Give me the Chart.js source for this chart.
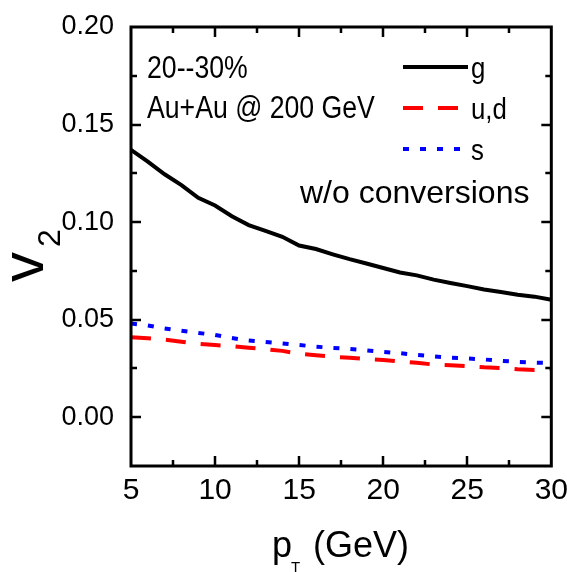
<!DOCTYPE html>
<html>
<head>
<meta charset="utf-8">
<script src="https://cdn.jsdelivr.net/npm/chart.js@4.4.1/dist/chart.umd.min.js"></script>
<style>
  html, body { margin: 0; padding: 0; background: #fff; }
  #wrap { width: 567px; height: 572px; }
</style>
</head>
<body>
<div id="wrap"><canvas id="v2Chart" width="567" height="572"></canvas></div>
<script>
// pT grid (GeV) and v2 of each parton species
const ptValues = [5, 6, 7, 8, 9, 10, 11, 12, 13, 14, 15, 16, 17, 18, 19, 20, 21, 22, 23, 24, 25, 26, 27, 28, 29, 30];
const v2Gluon = [0.137, 0.131, 0.1245, 0.119, 0.1125, 0.1085, 0.103, 0.0985, 0.0955, 0.0925, 0.088, 0.0862, 0.0835, 0.081, 0.0788, 0.0765, 0.0742, 0.0727, 0.0705, 0.0688, 0.0672, 0.0655, 0.0642, 0.0628, 0.0618, 0.0602];
const v2Light = [0.041, 0.0405, 0.0398, 0.0387, 0.0376, 0.037, 0.0364, 0.0356, 0.0349, 0.034, 0.0326, 0.0318, 0.031, 0.0305, 0.0298, 0.0293, 0.0286, 0.0279, 0.027, 0.0266, 0.0262, 0.0256, 0.0252, 0.0246, 0.0242, 0.0248];
const v2Strange = [0.048, 0.047, 0.0455, 0.0443, 0.0432, 0.0422, 0.0406, 0.0393, 0.0386, 0.0378, 0.037, 0.0362, 0.0355, 0.035, 0.0343, 0.0335, 0.0328, 0.0319, 0.0312, 0.0305, 0.0301, 0.0296, 0.0289, 0.0284, 0.028, 0.0278];

const seriesNames = ['g', 'u,d', 's'];
const xTickStep = 2.5;
const yTickStep = 0.025;

const TEXT_FONT = '"Liberation Sans", Arial, sans-serif';

function toPoints(ys) {
  return ptValues.map((x, i) => ({ x: x, y: ys[i] }));
}

function isMultiple(v, step) {
  return Math.abs(Math.round(v / step) * step - v) < 1e-9;
}

// draw text squeezed horizontally (the figure uses a narrow face)
function squeezedText(ctx, text, x, y, size, sx) {
  ctx.save();
  ctx.font = `${size}px ${TEXT_FONT}`;
  ctx.translate(x, y);
  ctx.scale(sx, 1);
  ctx.fillText(text, 0, 0);
  ctx.restore();
}

// Frame with inward ticks on all four sides
const framePlugin = {
  id: 'frame',
  afterDatasetsDraw(chart) {
    const { ctx, chartArea: a, scales } = chart;
    ctx.save();
    ctx.strokeStyle = '#000';
    ctx.lineWidth = 2.5;
    ctx.beginPath();
    scales.x.ticks.forEach(t => {
      if (t.value <= scales.x.min || t.value >= scales.x.max) return;
      const px = Math.round(scales.x.getPixelForValue(t.value));
      const len = isMultiple(t.value, 5) ? 10 : 6;
      ctx.moveTo(px, a.bottom); ctx.lineTo(px, a.bottom - len);
      ctx.moveTo(px, a.top); ctx.lineTo(px, a.top + len);
    });
    scales.y.ticks.forEach(t => {
      if (t.value <= scales.y.min + 1e-9 || t.value >= scales.y.max - 1e-9) return;
      const py = Math.round(scales.y.getPixelForValue(t.value));
      const len = isMultiple(t.value, 0.05) ? 10 : 6;
      ctx.moveTo(a.left, py); ctx.lineTo(a.left + len, py);
      ctx.moveTo(a.right, py); ctx.lineTo(a.right - len, py);
    });
    ctx.stroke();
    ctx.lineWidth = 3;
    ctx.strokeRect(a.left, a.top, a.right - a.left, a.bottom - a.top);
    ctx.restore();
  }
};

// Line-sample legend, labels and axis titles
const annotationPlugin = {
  id: 'annotations',
  afterDraw(chart) {
    const { ctx } = chart;
    ctx.save();
    ctx.fillStyle = '#000';
    ctx.textBaseline = 'alphabetic';
    ctx.textAlign = 'left';

    // legend
    const rows = [67, 108, 149];
    chart.data.datasets.forEach((ds, i) => {
      ctx.save();
      ctx.strokeStyle = ds.borderColor;
      ctx.lineWidth = ds.borderWidth;
      ctx.setLineDash(ds.borderDash || []);
      ctx.beginPath();
      ctx.moveTo(403, rows[i]);
      ctx.lineTo(i === 0 ? 468 : 462, rows[i]);
      ctx.stroke();
      ctx.restore();
      squeezedText(ctx, ds.label, 471, rows[i] + 11, 30, 0.86);
    });

    squeezedText(ctx, '20--30%', 147, 78, 31, 0.86);
    squeezedText(ctx, 'Au+Au @ 200 GeV', 147, 118, 31, 0.86);
    squeezedText(ctx, 'w/o conversions', 300, 203, 32, 1.0);

    // x title: p_T (GeV)
    ctx.font = `36px ${TEXT_FONT}`;
    ctx.fillText('p', 272, 557);
    ctx.font = `15px ${TEXT_FONT}`;
    ctx.fillText('T', 291, 572);
    ctx.font = `36px ${TEXT_FONT}`;
    ctx.fillText('(GeV)', 313, 557);

    // y title: v_2, reading upwards
    ctx.translate(43, 282);
    ctx.rotate(-Math.PI / 2);
    ctx.font = `60px ${TEXT_FONT}`;
    ctx.fillText('v', 0, 0);
    ctx.font = `32px ${TEXT_FONT}`;
    ctx.fillText('2', 35, 17);
    ctx.restore();
  }
};

new Chart(document.getElementById('v2Chart'), {
  type: 'line',
  data: {
    datasets: [
      {
        label: seriesNames[0],
        data: toPoints(v2Gluon),
        borderColor: '#000000',
        borderWidth: 4,
        pointRadius: 0,
        tension: 0
      },
      {
        label: seriesNames[1],
        data: toPoints(v2Light),
        borderColor: '#ff0000',
        borderWidth: 4,
        borderDash: [20, 15],
        pointRadius: 0,
        tension: 0
      },
      {
        label: seriesNames[2],
        data: toPoints(v2Strange),
        borderColor: '#0000ff',
        borderWidth: 4,
        borderDash: [6, 11],
        pointRadius: 0,
        tension: 0
      }
    ]
  },
  options: {
    responsive: false,
    animation: false,
    layout: { padding: { top: 27, right: 14, left: 0, bottom: 0 } },
    plugins: {
      legend: { display: false },
      tooltip: { enabled: false }
    },
    scales: {
      x: {
        type: 'linear',
        min: 5,
        max: 30,
        grid: { display: false },
        border: { display: false },
        ticks: {
          stepSize: xTickStep,
          autoSkip: false,
          maxRotation: 0,
          padding: -1,
          color: '#000',
          font: { family: TEXT_FONT, size: 30 },
          callback: v => isMultiple(v, 5) ? String(Math.round(v)) : ''
        },
        afterFit: s => { s.height = 106; }
      },
      y: {
        type: 'linear',
        min: -0.025,
        max: 0.2,
        grid: { display: false },
        border: { display: false },
        ticks: {
          stepSize: yTickStep,
          autoSkip: false,
          padding: 9,
          color: '#000',
          font: { family: TEXT_FONT, size: 27 },
          callback: v => isMultiple(v, 0.05) ? (Math.abs(v) < 1e-9 ? 0 : v).toFixed(2) : ''
        },
        afterFit: s => { s.width = 131; }
      }
    }
  },
  plugins: [framePlugin, annotationPlugin]
});
</script>
</body>
</html>
